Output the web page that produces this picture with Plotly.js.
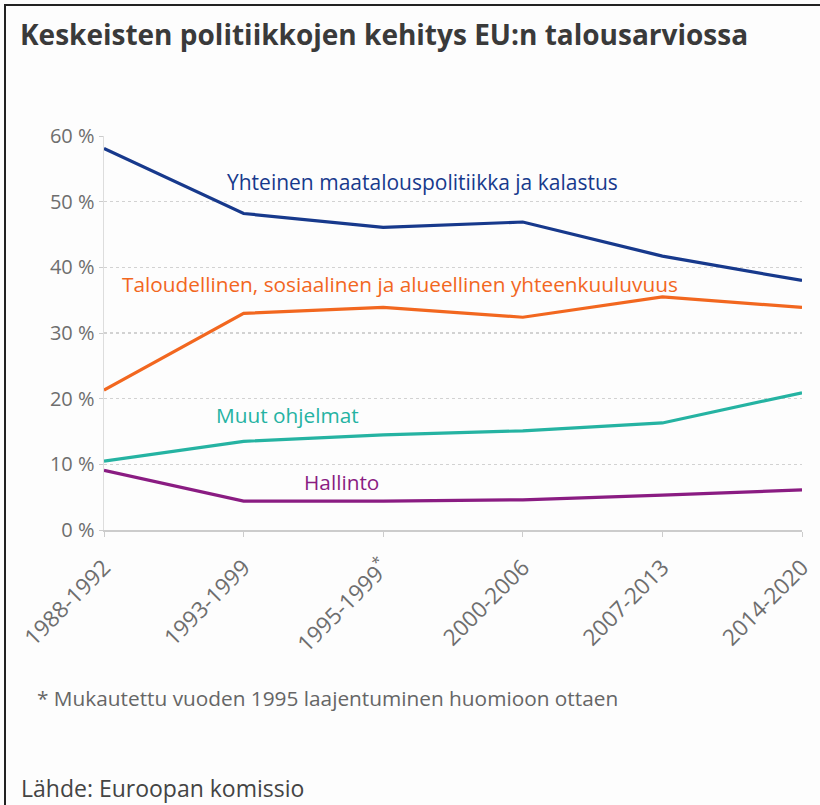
<!DOCTYPE html>
<html>
<head>
<meta charset="utf-8">
<script src="https://cdn.plot.ly/plotly-3.0.1.min.js"></script>
<style>
html,body{margin:0;padding:0;background:#fdfdfd;overflow:hidden;}
#wrap{position:relative;width:820px;height:805px;overflow:hidden;}
#chart{width:820px;height:805px;}
#frame{position:absolute;left:4px;top:4px;width:840px;height:830px;border:2px solid #222;pointer-events:none;}
</style>
</head>
<body>
<div id="wrap"><div id="chart"></div><div id="frame"></div></div>
<script>
const categories = ["1988-1992","1993-1999","1995-1999*","2000-2006","2007-2013","2014-2020"];
const tickLabels = ["1988-1992","1993-1999","1995-1999<sup>*</sup>","2000-2006","2007-2013","2014-2020"];
const maatalous = [58.1, 48.2, 46.1, 46.9, 41.7, 38.0];
const koheesio  = [21.3, 33.0, 33.9, 32.4, 35.5, 33.9];
const muut      = [10.5, 13.5, 14.5, 15.1, 16.3, 20.9];
const hallinto  = [9.1, 4.4, 4.4, 4.6, 5.3, 6.1];
const seriesNames = ["Yhteinen maatalouspolitiikka ja kalastus","Taloudellinen, sosiaalinen ja alueellinen yhteenkuuluvuus","Muut ohjelmat","Hallinto"];
const yTicks = [0,10,20,30,40,50,60];
const yTickLabels = ["0 %","10 %","20 %","30 %","40 %","50 %","60 %"];

const colors = ["#17398c","#f2671f","#25b3a2","#8a1c82"];
const font = "Open Sans, Noto Sans, sans-serif";
const xIdx = categories.map((c,i)=>i);

const mk = (y,i)=>({x:xIdx,y:y,type:"scatter",mode:"lines",name:seriesNames[i],
  line:{color:colors[i],width:3.2},hoverinfo:"y"});

const data=[mk(maatalous,0),mk(koheesio,1),mk(muut,2),mk(hallinto,3)];

const layout={
  width:820,height:805,
  paper_bgcolor:"#fdfdfd",plot_bgcolor:"#fdfdfd",
  margin:{l:104,r:18,t:136,b:275},
  showlegend:false,
  title:{text:"Keskeisten politiikkojen kehitys EU:n talousarviossa",
    font:{family:font,size:28,color:"#3a3a3a",weight:700},
    xref:"container",yref:"container",x:0.0244,y:0.956,xanchor:"left",yanchor:"middle"},
  xaxis:{range:[0,5],tickmode:"array",tickvals:xIdx,ticktext:tickLabels,tickangle:-45,
    showgrid:false,zeroline:false,showline:true,linecolor:"#cccccc",linewidth:1.5,
    ticks:"outside",ticklen:5,tickcolor:"#cccccc",ticklabelstandoff:9,
    tickfont:{family:font,size:22.5,color:"#6e6e6e"}},
  yaxis:{range:[0,60],tickmode:"array",tickvals:yTicks,ticktext:yTickLabels,
    showgrid:true,gridcolor:"#d2d2d2",griddash:"dot",gridwidth:1.5,
    zeroline:false,showline:true,linecolor:"#dddddd",linewidth:1.5,
    ticks:"outside",ticklen:4,tickcolor:"#cccccc",
    tickfont:{family:font,size:20,color:"#6e6e6e"}},
  annotations:[
    {text:seriesNames[0],xref:"paper",yref:"paper",x:0.173,y:0.883,xanchor:"left",yanchor:"middle",showarrow:false,font:{family:font,size:21,color:colors[0]}},
    {text:seriesNames[1],xref:"paper",yref:"paper",x:0.023,y:0.624,xanchor:"left",yanchor:"middle",showarrow:false,font:{family:font,size:20.8,color:colors[1]}},
    {text:seriesNames[2],xref:"paper",yref:"paper",x:0.158,y:0.292,xanchor:"left",yanchor:"middle",showarrow:false,font:{family:font,size:20.8,color:colors[2]}},
    {text:seriesNames[3],xref:"paper",yref:"paper",x:0.284,y:0.122,xanchor:"left",yanchor:"middle",showarrow:false,font:{family:font,size:20.8,color:colors[3]}},
    {text:"* Mukautettu vuoden 1995 laajentuminen huomioon ottaen",xref:"paper",yref:"paper",x:-0.099,y:-0.426,xanchor:"left",yanchor:"middle",showarrow:false,font:{family:font,size:20.8,color:"#666666"}},
    {text:"Lähde: Euroopan komissio",xref:"paper",yref:"paper",x:-0.122,y:-0.655,xanchor:"left",yanchor:"middle",showarrow:false,font:{family:font,size:23,color:"#444444"}}
  ]
};
Plotly.newPlot("chart",data,layout,{displayModeBar:false,staticPlot:true});
</script>
</body>
</html>
